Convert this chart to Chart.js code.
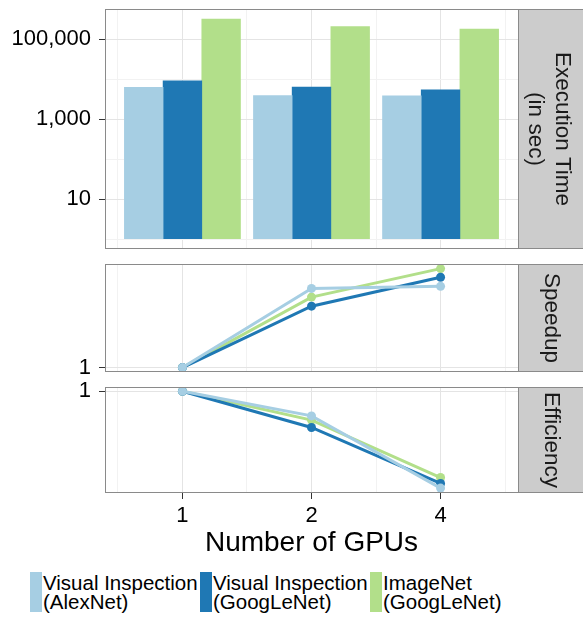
<!DOCTYPE html>
<html>
<head>
<meta charset="utf-8">
<script src="https://cdn.jsdelivr.net/npm/chart.js@4.4.0/dist/chart.umd.min.js"></script>
<style>
  html, body { margin: 0; padding: 0; background: #fff; }
  #wrap { position: relative; width: 583px; height: 621px; overflow: hidden;
          font-family: "Liberation Sans", Arial, sans-serif; }
  #wrap canvas { position: absolute; left: 0; }
  .key { position: absolute; top: 572px; width: 12px; height: 40px; }
  .lbl { position: absolute; top: 573px; font-size: 20.5px; line-height: 19px;
         color: #000; white-space: pre; }
</style>
</head>
<body>
<div id="wrap">
  <canvas id="timeChart" width="583" height="255" style="top:0px"></canvas>
  <canvas id="speedupChart" width="583" height="125" style="top:255px"></canvas>
  <canvas id="efficiencyChart" width="583" height="180" style="top:380px"></canvas>
</div>
<script>
// GPU counts, drawn evenly spaced like a discrete axis
const gpuLabels = ['1', '2', '4'];
const gpuSlots = [1, 2, 3];

// Series
const seriesNames = ['Visual Inspection\n(AlexNet)', 'Visual Inspection\n(GoogLeNet)', 'ImageNet\n(GoogLeNet)'];
const seriesColors = ['#a6cee3', '#1f78b4', '#b2df8a'];

// Execution time (sec)
const timeAlexVI = [6200, 3900, 3800];
const timeGoogVI = [9100, 6300, 5400];
const timeGoogIN = [316000, 206000, 178000];

// Speedup
const speedupAlexVI = [1, 1.60, 1.62];
const speedupGoogVI = [1, 1.44, 1.71];
const speedupGoogIN = [1, 1.52, 1.80];

// Efficiency
const effAlexVI = [1, 0.80, 0.415];
const effGoogVI = [1, 0.72, 0.433];
const effGoogIN = [1, 0.77, 0.457];

// Tick values
const timeTicks = [10, 1000, 100000];
const timeMinorTicks = [1, 100, 10000];
const ratioTicks = [1];

const MAJOR_GRID = '#e4e4e4';
const MINOR_GRID = '#f2f2f2';
const TICK_COLOR = '#333333';
const NONE = 'rgba(0,0,0,0)';

Chart.defaults.font.family = '"Liberation Sans", Arial, sans-serif';
Chart.defaults.color = '#000';

const toPoints = vals => vals.map((y, i) => ({ x: gpuSlots[i], y: y }));

// Panel border plus the grey facet strip on the right
const panelFrame = {
    id: 'panelFrame',
    afterDraw(chart, args, opts) {
        const { ctx, chartArea: a } = chart;
        const h = a.bottom - a.top;
        ctx.save();
        ctx.fillStyle = '#cccccc';
        ctx.fillRect(a.right, a.top, 70, h);
        ctx.strokeStyle = '#8a8a8a';
        ctx.lineWidth = 1;
        ctx.strokeRect(a.left + 0.5, a.top + 0.5, a.right - a.left, h - 1);
        ctx.strokeRect(a.right + 0.5, a.top + 0.5, 70, h - 1);
        ctx.fillStyle = '#1a1a1a';
        ctx.font = '22.5px "Liberation Sans", Arial, sans-serif';
        ctx.textAlign = 'center';
        ctx.textBaseline = 'middle';
        const cx = a.right + 33.5;
        const cy = (a.top + a.bottom) / 2;
        opts.lines.forEach((line, i) => {
            ctx.save();
            ctx.translate(cx + opts.offsets[i], cy);
            ctx.rotate(Math.PI / 2);
            ctx.fillText(line, 0, 0);
            ctx.restore();
        });
        ctx.restore();
    }
};

function xScale(showLabels) {
    const gridValues = [gpuSlots[0] - 0.5].concat(...gpuSlots.map(v => [v, v + 0.5]));
    return {
        type: 'linear',
        min: 0.4,
        max: 3.6,
        offset: false,
        afterBuildTicks: s => { s.ticks = gridValues.map(v => ({ value: v })); },
        afterFit: s => {
            s.height = showLabels ? 67 : 0;
            s.paddingLeft = 0;
            s.paddingRight = 0;
        },
        grid: {
            offset: false,
            drawTicks: showLabels,
            tickLength: 6,
            color: c => (c.tick && Number.isInteger(c.tick.value)) ? MAJOR_GRID : MINOR_GRID,
            tickColor: c => (c.tick && Number.isInteger(c.tick.value)) ? TICK_COLOR : NONE
        },
        border: { display: false },
        ticks: {
            display: showLabels,
            autoSkip: false,
            maxRotation: 0,
            padding: 4,
            font: { size: 22 },
            callback: v => Number.isInteger(v) ? gpuLabels[gpuSlots.indexOf(v)] : ''
        },
        title: {
            display: showLabels,
            text: 'Number of GPUs',
            font: { size: 28 },
            padding: 0
        }
    };
}

function yScale(min, max, majors, minors) {
    return {
        type: 'logarithmic',
        min: min,
        max: max,
        afterBuildTicks: s => {
            s.ticks = majors.concat(minors).filter(v => v >= min && v <= max).map(v => ({ value: v }));
        },
        afterFit: s => {
            s.width = 105;
            s.paddingTop = 0;
            s.paddingBottom = 0;
        },
        grid: {
            tickLength: 6,
            color: c => (c.tick && majors.includes(c.tick.value)) ? MAJOR_GRID : MINOR_GRID,
            tickColor: c => (c.tick && majors.includes(c.tick.value)) ? TICK_COLOR : NONE
        },
        border: { display: false },
        ticks: {
            autoSkip: false,
            padding: 8,
            font: { size: 22 },
            callback: v => majors.includes(v) ? v.toLocaleString('en-US') : ''
        }
    };
}

function baseOptions(padding, y, showX, stripLines, stripOffsets) {
    return {
        responsive: false,
        animation: false,
        layout: { padding: padding },
        plugins: {
            legend: { display: false },
            tooltip: { enabled: false },
            panelFrame: { lines: stripLines, offsets: stripOffsets }
        },
        scales: { x: xScale(showX), y: y }
    };
}

// Execution time bars
new Chart(document.getElementById('timeChart'), {
    type: 'bar',
    data: {
        datasets: [timeAlexVI, timeGoogVI, timeGoogIN].map((vals, i) => ({
            label: seriesNames[i],
            data: toPoints(vals),
            backgroundColor: seriesColors[i],
            borderWidth: 0,
            base: 1,
            barThickness: 38.7
        }))
    },
    options: baseOptions({ top: 9, right: 65, bottom: 6, left: 0 },
        yScale(0.572, 562000, timeTicks, timeMinorTicks), false,
        ['Execution Time', '(in sec)'], [10.5, -16.5]),
    plugins: [panelFrame]
});

function lineSets(series) {
    return series.map((vals, i) => ({
        label: seriesNames[i],
        data: toPoints(vals),
        borderColor: seriesColors[i],
        backgroundColor: seriesColors[i],
        borderWidth: 3,
        pointRadius: 4.5,
        pointBorderWidth: 0,
        pointBackgroundColor: seriesColors[i],
        tension: 0
    }));
}

// Speedup
new Chart(document.getElementById('speedupChart'), {
    type: 'line',
    data: { datasets: lineSets([speedupAlexVI, speedupGoogVI, speedupGoogIN]) },
    options: baseOptions({ top: 9, right: 65, bottom: 8, left: 0 },
        yScale(0.974, 1.85, ratioTicks, []), false, ['Speedup'], [0]),
    plugins: [panelFrame]
});

// Efficiency
new Chart(document.getElementById('efficiencyChart'), {
    type: 'line',
    data: { datasets: lineSets([effAlexVI, effGoogVI, effGoogIN]) },
    options: baseOptions({ top: 7, right: 65, bottom: 0, left: 0 },
        yScale(0.397, 1.04, ratioTicks, []), true, ['Efficiency'], [0]),
    plugins: [panelFrame]
});

// Legend below the plot
const legendX = [30, 200, 370];
const wrap = document.getElementById('wrap');
seriesNames.forEach((name, i) => {
    const key = document.createElement('div');
    key.className = 'key';
    key.style.left = legendX[i] + 'px';
    key.style.background = seriesColors[i];
    wrap.appendChild(key);
    const lbl = document.createElement('div');
    lbl.className = 'lbl';
    lbl.style.left = (legendX[i] + 13) + 'px';
    lbl.textContent = name;
    wrap.appendChild(lbl);
});
</script>
</body>
</html>
